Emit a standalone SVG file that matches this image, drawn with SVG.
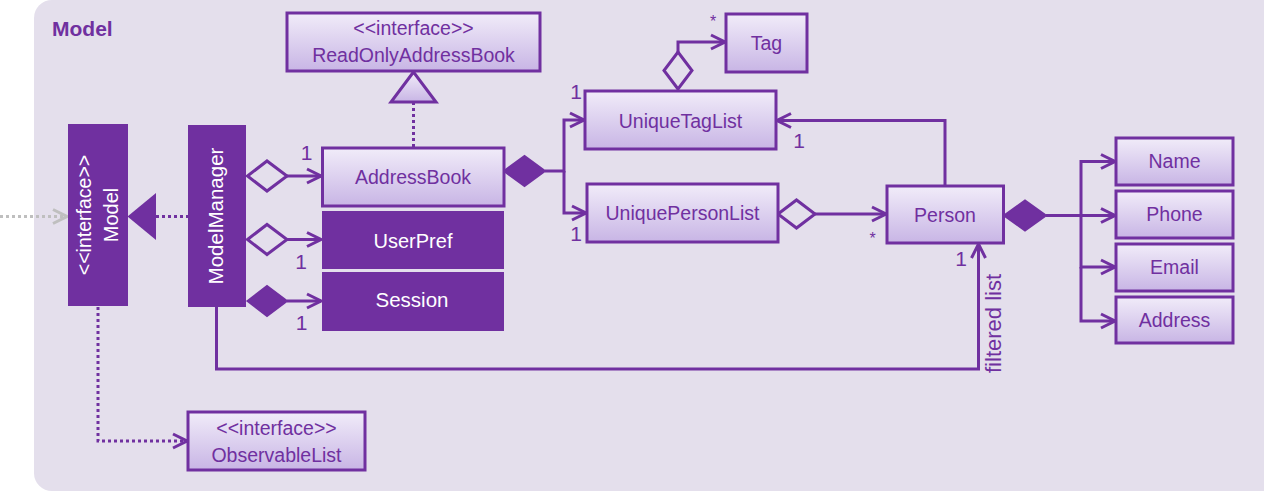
<svg xmlns="http://www.w3.org/2000/svg" width="1264" height="492" viewBox="0 0 1264 492">
<defs>
<linearGradient id="g" x1="0" y1="0" x2="0" y2="1">
<stop offset="0" stop-color="#F1ECF9"/>
<stop offset="1" stop-color="#C8B5E5"/>
</linearGradient>
<marker id="arr" viewBox="0 0 18 18" refX="16" refY="9" markerWidth="18" markerHeight="18" markerUnits="userSpaceOnUse" orient="auto">
<path d="M2,2 L16,9 L2,16" fill="none" stroke="#7030A0" stroke-width="3"/>
</marker>
<marker id="garr" viewBox="0 0 18 18" refX="16" refY="9" markerWidth="18" markerHeight="18" markerUnits="userSpaceOnUse" orient="auto">
<path d="M2,2 L16,9 L2,16" fill="none" stroke="#BFBFBF" stroke-width="3"/>
</marker>
</defs>
<style>
.bg{fill:#E4DFEC}
.box{fill:url(#g);stroke:#7030A0;stroke-width:3}
.dark{fill:#7030A0}
.t{font-family:"Liberation Sans",Arial,sans-serif;font-size:19.5px;fill:#7030A0;text-anchor:middle}
.w{fill:#FFFFFF}
.m{font-family:"Liberation Sans",Arial,sans-serif;font-size:21px;fill:#7030A0;text-anchor:middle}
.s{font-family:"Liberation Sans",Arial,sans-serif;font-size:16px;fill:#7030A0;text-anchor:middle}
.ln{stroke:#7030A0;stroke-width:3;fill:none}
.dot{stroke-dasharray:3 3}
.hd{fill:#E4DFEC;stroke:#7030A0;stroke-width:3}
.fd{fill:#7030A0;stroke:#7030A0;stroke-width:2}
</style>
<rect class="bg" x="34" y="0" width="1250" height="491" rx="18"/>
<text x="52" y="36" font-family="Liberation Sans,Arial,sans-serif" font-size="21" font-weight="bold" fill="#7030A0">Model</text>

<g id="connectors">
<line x1="0" y1="216.5" x2="67" y2="216.5" stroke="#BFBFBF" stroke-width="3" stroke-dasharray="3 3" marker-end="url(#garr)"/>
<line class="ln dot" x1="156" y1="216.5" x2="188" y2="216.5"/>
<polygon points="127.5,216.5 156,193 156,240" fill="#7030A0"/>
<line class="ln dot" x1="413.5" y1="102" x2="413.5" y2="148"/>
<polygon points="413.5,72 391,102 436,102" fill="url(#g)" stroke="#7030A0" stroke-width="3"/>
<polygon class="hd" points="247.5,176 267,161 287,176 267,191"/>
<line class="ln" x1="287" y1="176" x2="321" y2="176" marker-end="url(#arr)"/>
<polygon class="hd" points="247.5,239.5 267,224.5 287,239.5 267,254.5"/>
<line class="ln" x1="287" y1="239.5" x2="321" y2="239.5" marker-end="url(#arr)"/>
<polygon class="fd" points="247.5,301 267,286 287,301 267,316"/>
<line class="ln" x1="287" y1="301" x2="321" y2="301" marker-end="url(#arr)"/>
<polygon class="fd" points="504,171 524.5,156 545,171 524.5,186"/>
<path class="ln" d="M545,171 H564 V120 H584" marker-end="url(#arr)"/>
<path class="ln" d="M564,171 V213 H586" marker-end="url(#arr)"/>
<polygon class="hd" points="678,89 664,70.5 678,52 692,70.5"/>
<path class="ln" d="M678,52 V42 H725" marker-end="url(#arr)"/>
<polygon class="hd" points="778,214 796.5,200 815,214 796.5,228"/>
<line class="ln" x1="815" y1="214" x2="886" y2="214" marker-end="url(#arr)"/>
<path class="ln" d="M945,186 V120.5 H777" marker-end="url(#arr)"/>
<polygon class="fd" points="1004,215.5 1025,200.5 1046,215.5 1025,230.5"/>
<path class="ln" d="M1046,215.5 H1081 V161.5 H1115" marker-end="url(#arr)"/>
<path class="ln" d="M1081,215.5 H1115" marker-end="url(#arr)"/>
<path class="ln" d="M1081,215.5 V267 H1115" marker-end="url(#arr)"/>
<path class="ln" d="M1081,267 V321 H1115" marker-end="url(#arr)"/>
<path class="ln" d="M216.5,307 V369 H978.5 V244" marker-end="url(#arr)"/>
<path class="ln dot" d="M98,307 V441 H187" marker-end="url(#arr)"/>
<text class="m" x="306.5" y="160">1</text>
<text class="m" x="301" y="269">1</text>
<text class="m" x="301.5" y="330">1</text>
<text class="m" x="576" y="99">1</text>
<text class="m" x="576" y="241">1</text>
<text class="s" x="713" y="27">*</text>
<text class="m" x="799" y="148">1</text>
<text class="s" x="872.5" y="244">*</text>
<text class="m" x="961" y="266">1</text>
<text class="m" font-size="22" text-anchor="start" transform="translate(1001,373) rotate(-90)" style="text-anchor:start;font-size:22px">filtered list</text>
</g>

<g id="Model">
<rect class="dark" x="68" y="124" width="60" height="182"/>
<text class="t w" transform="translate(91,215) rotate(-90)">&lt;&lt;interface&gt;&gt;</text>
<text class="t w" transform="translate(117.5,215) rotate(-90)" style="font-size:20px">Model</text>
</g>
<g id="ModelManager">
<rect class="dark" x="188" y="125" width="58" height="182"/>
<text class="t w" transform="translate(222.5,216) rotate(-90)" style="font-size:20.5px">ModelManager</text>
</g>
<g id="ReadOnlyAddressBook">
<rect class="box" x="287" y="13" width="253" height="58"/>
<text class="t" x="413.5" y="35">&lt;&lt;interface&gt;&gt;</text>
<text class="t" x="413.5" y="62">ReadOnlyAddressBook</text>
</g>
<g id="AddressBook">
<rect class="box" x="322.5" y="148" width="181.5" height="58"/>
<text class="t" x="413" y="184">AddressBook</text>
</g>
<g id="UserPref">
<rect class="dark" x="322" y="211" width="182" height="58"/>
<text class="t w" x="413" y="248" style="font-size:20px">UserPref</text>
</g>
<g id="Session">
<rect class="dark" x="322" y="272" width="182" height="59"/>
<text class="t w" x="412" y="307" style="font-size:20.5px">Session</text>
</g>
<g id="Tag">
<rect class="box" x="726" y="14" width="81" height="58"/>
<text class="t" x="766.5" y="50">Tag</text>
</g>
<g id="UniqueTagList">
<rect class="box" x="585" y="91" width="191" height="58"/>
<text class="t" x="680.5" y="128">UniqueTagList</text>
</g>
<g id="UniquePersonList">
<rect class="box" x="587" y="184" width="191" height="58"/>
<text class="t" x="682.5" y="220">UniquePersonList</text>
</g>
<g id="Person">
<rect class="box" x="887" y="186" width="116.5" height="57"/>
<text class="t" x="945" y="222">Person</text>
</g>
<g id="Name">
<rect class="box" x="1116" y="138" width="117" height="47"/>
<text class="t" x="1174.5" y="168">Name</text>
</g>
<g id="Phone">
<rect class="box" x="1116" y="191" width="117" height="47"/>
<text class="t" x="1174.5" y="221">Phone</text>
</g>
<g id="Email">
<rect class="box" x="1116" y="244" width="117" height="47"/>
<text class="t" x="1174.5" y="274">Email</text>
</g>
<g id="Address">
<rect class="box" x="1116" y="297" width="117" height="46"/>
<text class="t" x="1174.5" y="327">Address</text>
</g>
<g id="ObservableList">
<rect class="box" x="188" y="412" width="177" height="58"/>
<text class="t" x="276.5" y="435">&lt;&lt;interface&gt;&gt;</text>
<text class="t" x="276.5" y="462">ObservableList</text>
</g>
</svg>
